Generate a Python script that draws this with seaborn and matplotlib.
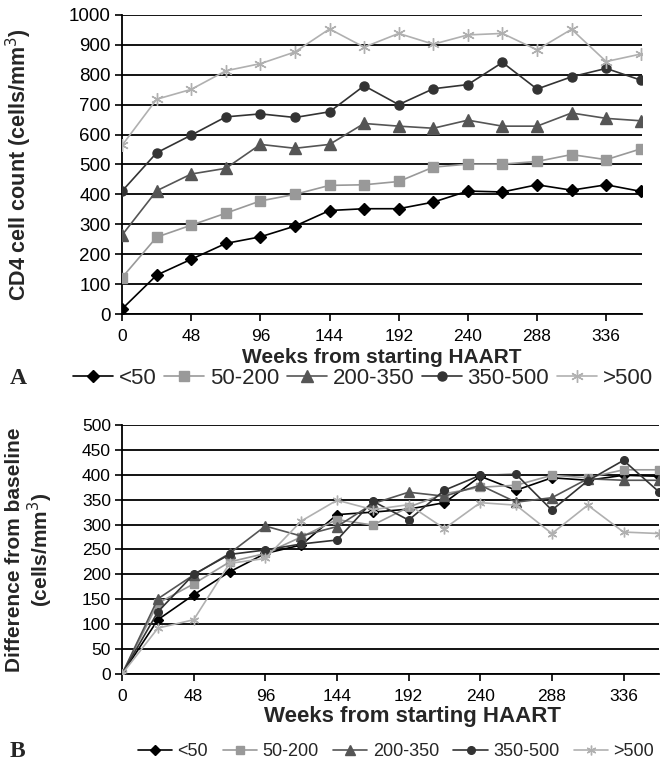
import matplotlib
matplotlib.use('Agg')
import matplotlib.pyplot as plt
import seaborn as sns
import pandas as pd

# weeks from starting HAART, one point every 24 weeks
weeks = [0, 24, 48, 72, 96, 120, 144, 168, 192, 216, 240, 264, 288, 312, 336, 360]
groups = ['<50', '50-200', '200-350', '350-500', '>500']

# panel A: CD4 cell count by baseline stratum
cd4_lt50 = [17, 130, 183, 236, 258, 294, 346, 352, 352, 374, 411, 408, 432, 414, 432, 410]
cd4_50_200 = [122, 257, 297, 337, 378, 400, 430, 432, 443, 491, 501, 501, 510, 533, 516, 552]
cd4_200_350 = [264, 412, 468, 487, 567, 554, 567, 637, 628, 621, 648, 628, 628, 672, 654, 646]
cd4_350_500 = [411, 539, 598, 659, 669, 657, 676, 763, 700, 753, 767, 841, 752, 793, 821, 782]
cd4_gt500 = [564, 718, 751, 813, 837, 876, 953, 892, 938, 902, 933, 938, 883, 952, 844, 869]

# panel B: difference from baseline
diff_lt50 = [0, 109, 159, 205, 242, 259, 320, 325, 331, 344, 397, 369, 394, 389, 399, 397]
diff_50_200 = [0, 142, 181, 225, 242, 275, 310, 299, 335, 362, 375, 379, 399, 394, 410, 410]
diff_200_350 = [0, 151, 199, 242, 297, 277, 296, 342, 365, 357, 379, 345, 354, 392, 389, 389]
diff_350_500 = [0, 125, 200, 240, 249, 261, 269, 347, 309, 369, 399, 401, 329, 388, 429, 365]
diff_gt500 = [0, 92, 109, 222, 232, 307, 349, 330, 340, 292, 344, 339, 282, 339, 285, 282]

colors = ['#000000', '#999999', '#555555', '#333333', '#b0b0b0']
markers = ['D', 's', '^', 'o', (6, 2, 0)]
sizes_a = [6.5, 7, 8.5, 6.5, 9]
sizes_b = [5, 5.5, 6.5, 5.5, 7]

sns.set_style('white')
plt.rcParams['font.family'] = ['Liberation Sans', 'DejaVu Sans']

fig = plt.figure(figsize=(6.6, 7.67), dpi=100)
axA = fig.add_axes([0.185, 0.5906, 0.788, 0.390])
axB = fig.add_axes([0.185, 0.1213, 0.814, 0.3246])


def draw_panel(ax, series, sizes, ylabsize):
    for vals, g, c, m, ms in zip(series, groups, colors, markers, sizes):
        df = pd.DataFrame({'week': weeks, 'value': vals})
        sns.lineplot(data=df, x='week', y='value', ax=ax, color=c, marker=m,
                     markersize=ms, markeredgecolor=c, markeredgewidth=1.0,
                     linewidth=1.2, label=g, legend=False, zorder=3)
    ax.yaxis.grid(True, color='black', linewidth=1.3, zorder=0)
    ax.xaxis.grid(False)
    ax.set_axisbelow(True)
    for s in ['top', 'right']:
        ax.spines[s].set_visible(False)
    for s in ['left', 'bottom']:
        ax.spines[s].set_color('black')
        ax.spines[s].set_linewidth(1.3)
    ax.set_xticks(range(0, 337, 48))
    ax.tick_params(axis='both', direction='out', length=5, width=1.2,
                   color='black', labelcolor='black', left=True, bottom=True)
    ax.tick_params(axis='x', labelsize=12.5, pad=6)
    ax.tick_params(axis='y', labelsize=ylabsize, pad=3)


draw_panel(axA, [cd4_lt50, cd4_50_200, cd4_200_350, cd4_350_500, cd4_gt500], sizes_a, 13.5)
axA.set_xlim(0, 361)
axA.set_ylim(0, 1000)
axA.set_yticks(range(0, 1001, 100))
axA.set_xlabel('Weeks from starting HAART', fontsize=15, fontweight='bold')
axA.set_ylabel('CD4 cell count (cells/mm$^3$)', fontsize=15.5, fontweight='bold')
axA.xaxis.set_label_coords(0.5, -0.112)
axA.yaxis.set_label_coords(-0.17, 0.5)

draw_panel(axB, [diff_lt50, diff_50_200, diff_200_350, diff_350_500, diff_gt500], sizes_b, 12.5)
axB.set_xlim(0, 360)
axB.set_ylim(0, 500)
axB.set_yticks(range(0, 501, 50))
axB.set_xlabel('Weeks from starting HAART', fontsize=16, fontweight='bold')
axB.set_ylabel('Difference from baseline\n(cells/mm$^3$)', fontsize=15, fontweight='bold',
               linespacing=1.1)
axB.xaxis.set_label_coords(0.54, -0.13)
axB.yaxis.set_label_coords(-0.125, 0.5)

fig.legend(axA.lines[:5], groups, loc='center', bbox_to_anchor=(0.55, 0.507),
           ncol=5, frameon=False, fontsize=16, handlelength=1.8,
           handletextpad=0.25, columnspacing=0.35, numpoints=1)
fig.legend(axB.lines[:5], groups, loc='center', bbox_to_anchor=(0.6, 0.0196),
           ncol=5, frameon=False, fontsize=13, handlelength=1.9,
           handletextpad=0.3, columnspacing=0.8, numpoints=1)

fig.text(0.015, 0.507, 'A', family='Liberation Serif', fontweight='bold',
         fontsize=17, va='center')
fig.text(0.015, 0.0196, 'B', family='Liberation Serif', fontweight='bold',
         fontsize=17, va='center')

fig.savefig('out.png', dpi=100)
